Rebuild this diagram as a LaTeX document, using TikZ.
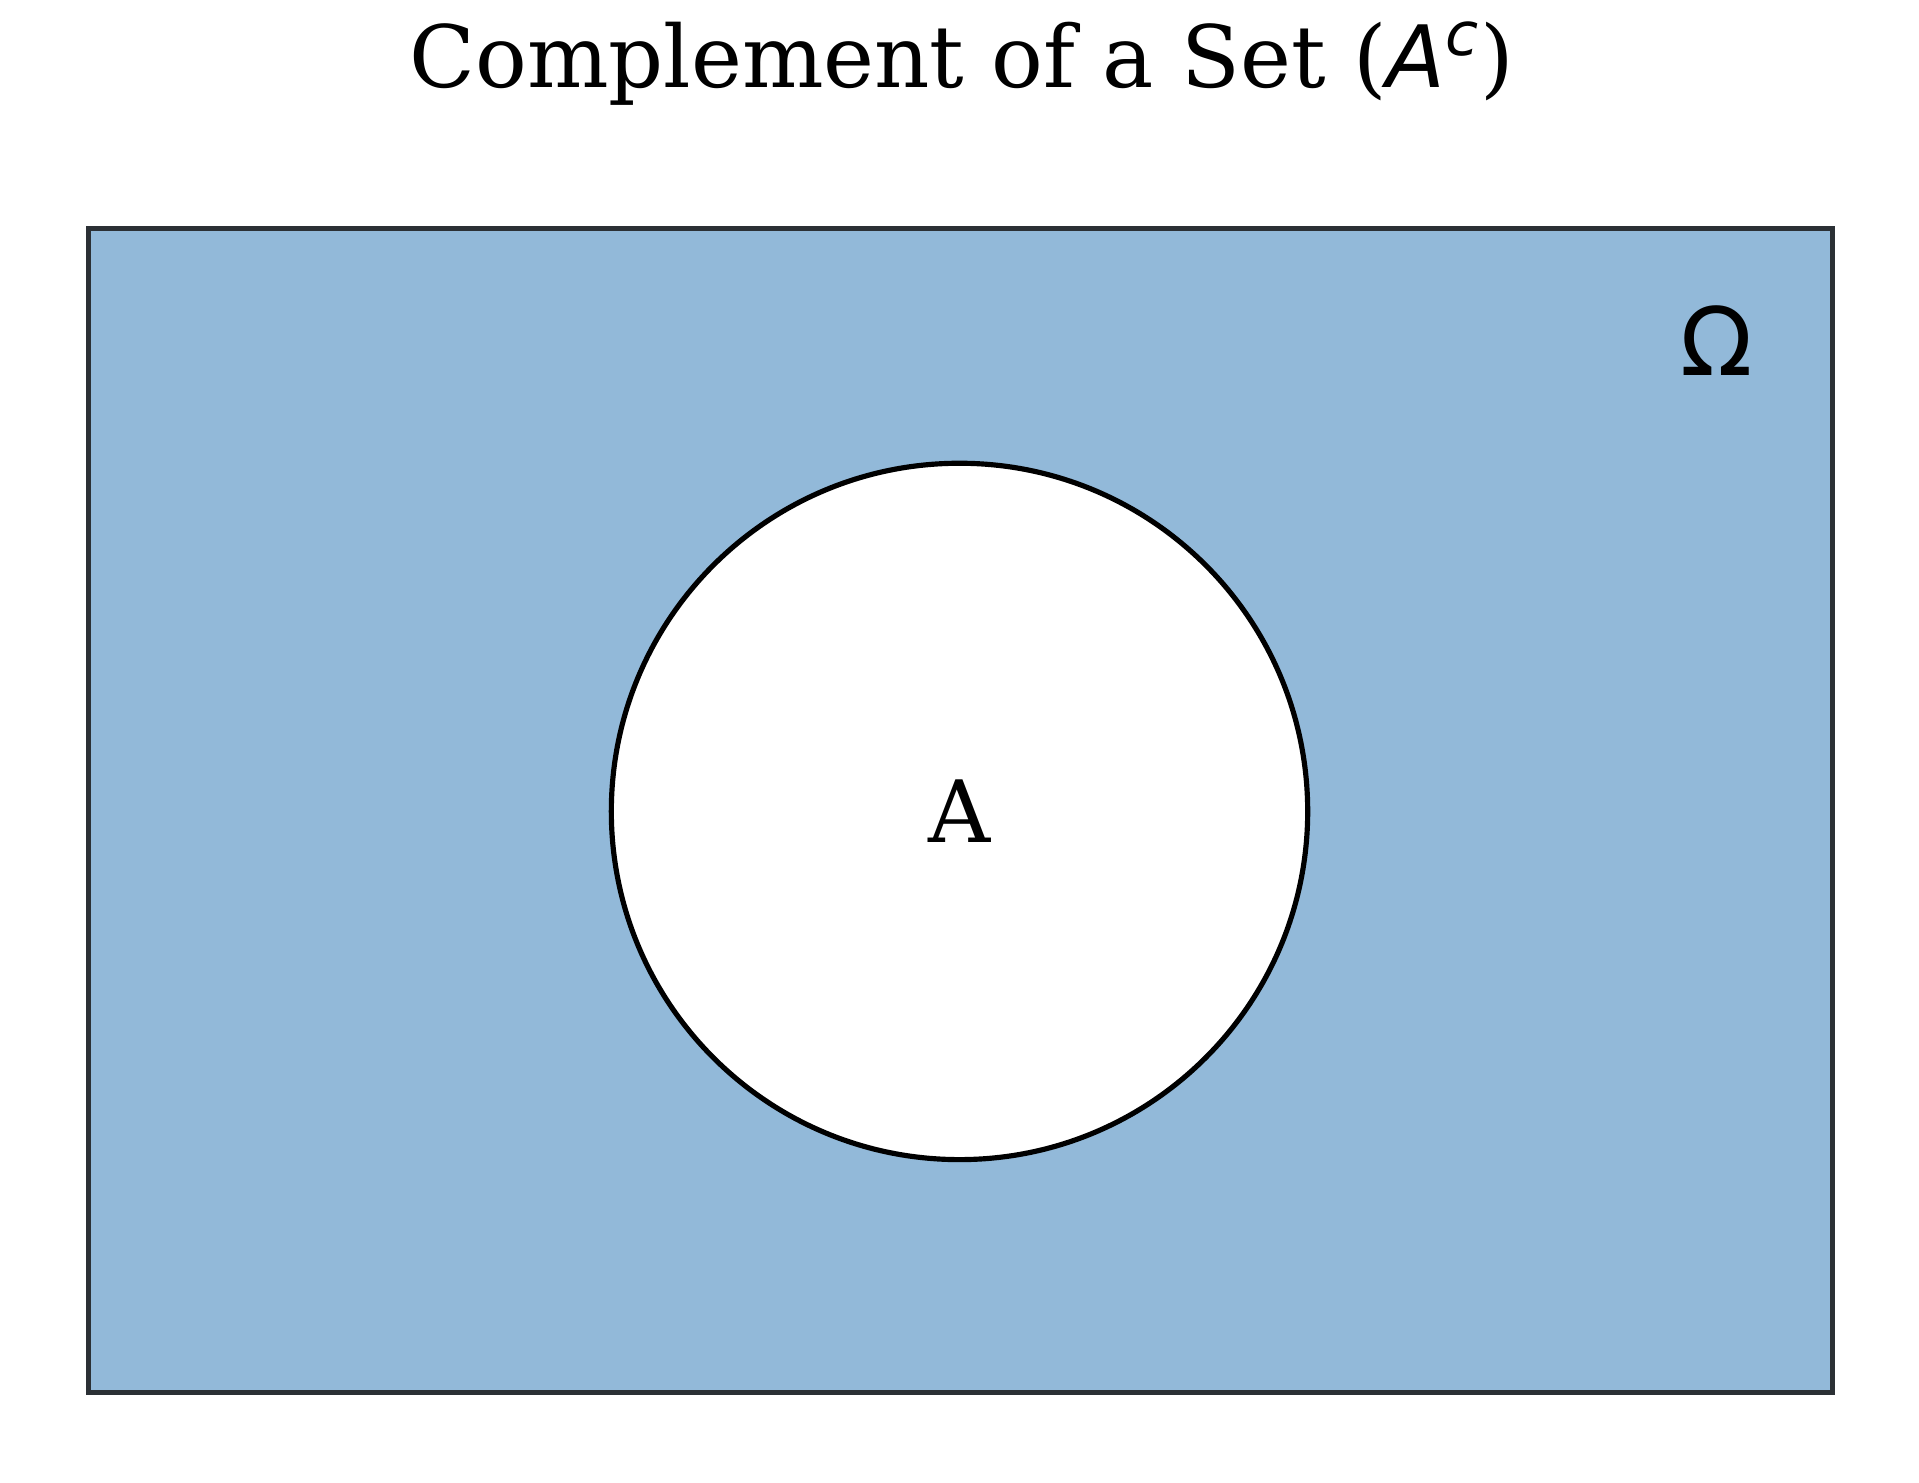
\documentclass[tikz,border=0pt]{standalone}
\usepackage{fontspec}
\setmainfont{DejaVu Serif}
\setsansfont{DejaVu Sans}
\usepackage{xcolor}
\usetikzlibrary{positioning}
\definecolor{colFill}{HTML}{92B9D9}
\definecolor{colEdge}{HTML}{2B3035}

\begin{document}
\begin{tikzpicture}[
  universe/.style={draw=colEdge, fill=colFill, line width=1.2pt},
  setA/.style={circle, draw=black, fill=white, line width=1.2pt, minimum size=5.69cm, inner sep=0pt},
  lbl/.style={font=\fontsize{20}{24}\selectfont, inner sep=0pt}
]
  \useasboundingbox (0,0) rectangle (15.68,12.11);
  \fill[white] (0,0) rectangle (15.68,12.11);
  \draw[universe] (0.72,0.73) rectangle (14.97,10.24);
  \node[setA] (A) at (7.84,5.48) {};
  \node[lbl] (lblA) at (A.center) {A};
  \node[lbl, font=\sffamily\fontsize{22}{26}\selectfont] (omega) at (14.03,9.33) {Ω};
  \node[lbl] (title) at (7.86,11.59)
    {Complement of a Set ({\sffamily\itshape A}\textsuperscript{\sffamily\itshape c})};
\end{tikzpicture}
\end{document}
